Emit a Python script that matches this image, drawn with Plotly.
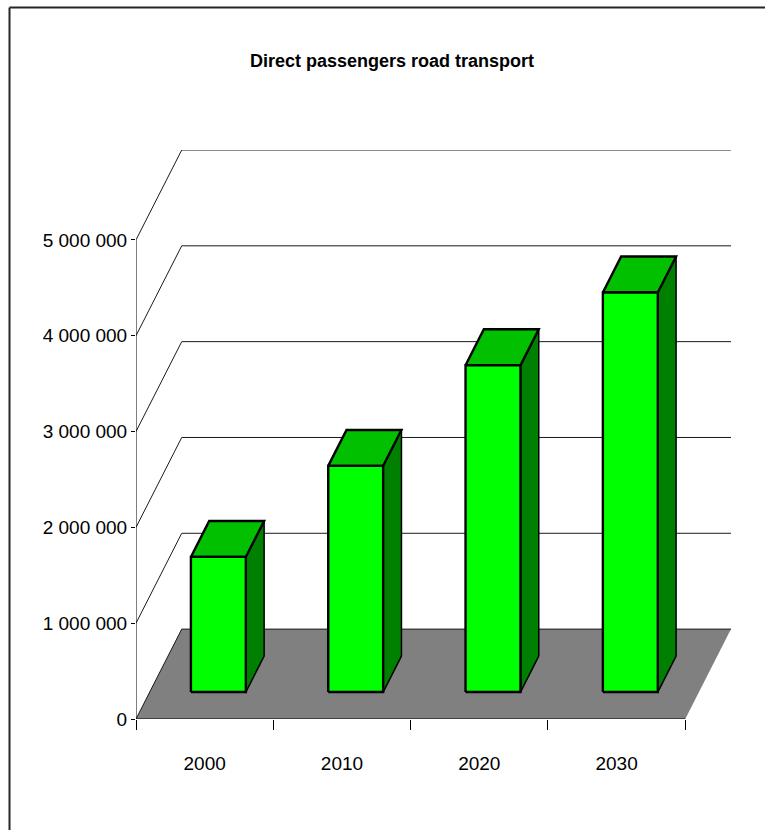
import plotly.graph_objects as go

# Chart data
years = ["2000", "2010", "2020", "2030"]
passengers = [1410000, 2360000, 3410000, 4170000]
y_ticks = [0, 1000000, 2000000, 3000000, 4000000, 5000000]
y_tick_labels = ["0", "1 000 000", "2 000 000", "3 000 000", "4 000 000", "5 000 000"]

# Oblique projection of the "3D" box: depth 1 shifts right by DX category units
# and up by DY value units.
DX = 0.333
DY = 938000
BAR_HALF = 0.2          # half bar width, in category units
D_FRONT, D_BACK = 0.3, 0.7   # bar depth span inside the box

FONT = "Liberation Sans, Arial, sans-serif"
n = len(years)
ymax = max(y_ticks)


def proj(x, y, d):
    return x + d * DX, y + d * DY


def poly(points, fill, line_color=None, line_width=0):
    xs = [p[0] for p in points] + [points[0][0]]
    ys = [p[1] for p in points] + [points[0][1]]
    return go.Scatter(
        x=xs, y=ys, mode="lines", fill="toself", fillcolor=fill,
        line=dict(color=line_color or fill, width=line_width),
        hoverinfo="skip", showlegend=False,
    )


def path(points, color, width):
    return go.Scatter(
        x=[p[0] for p in points], y=[p[1] for p in points], mode="lines",
        line=dict(color=color, width=width), hoverinfo="skip", showlegend=False,
    )


fig = go.Figure()

# floor
fig.add_trace(poly([proj(0, 0, 0), proj(n, 0, 0), proj(n, 0, 1), proj(0, 0, 1)], "#808080"))

# wall gridlines: left side wall slant + back wall horizontal
for v in y_ticks:
    fig.add_trace(path([proj(0, v, 0), proj(0, v, 1), proj(n, v, 1)], "#1a1a1a", 1))

# front value axis and front floor edge
fig.add_trace(path([proj(0, 0, 0), proj(0, ymax, 0)], "#000000", 1))
fig.add_trace(path([proj(0, 0, 0), proj(n, 0, 0)], "#000000", 1.2))

# bars
for i, v in enumerate(passengers):
    x0 = i + 0.5 - BAR_HALF
    x1 = i + 0.5 + BAR_HALF
    front = [proj(x0, 0, D_FRONT), proj(x1, 0, D_FRONT), proj(x1, v, D_FRONT), proj(x0, v, D_FRONT)]
    side = [proj(x1, 0, D_FRONT), proj(x1, 0, D_BACK), proj(x1, v, D_BACK), proj(x1, v, D_FRONT)]
    top = [proj(x0, v, D_FRONT), proj(x1, v, D_FRONT), proj(x1, v, D_BACK), proj(x0, v, D_BACK)]
    fig.add_trace(poly(side, "#008000", "#000000", 1.5))
    fig.add_trace(poly(top, "#00C000", "#000000", 2.4))
    fig.add_trace(poly(front, "#00FF00", "#000000", 2.4))

W, H = 765, 830
ML, MR, MT, MB = 136, 34, 150, 111
pw, ph = W - ML - MR, H - MT - MB


def px_x(p):
    return (p - ML) / pw


def px_y(p):
    return (H - MB - p) / ph


# outer chart frame (left and top edges)
frame = dict(color="#262626", width=2)
shapes = [
    dict(type="line", xref="paper", yref="paper", x0=px_x(9.5), x1=px_x(9.5),
         y0=px_y(7.5), y1=px_y(H + 10), line=frame),
    dict(type="line", xref="paper", yref="paper", x0=px_x(9.5), x1=px_x(W + 10),
         y0=px_y(7.5), y1=px_y(7.5), line=frame),
]

fig.update_layout(
    width=W, height=H,
    margin=dict(l=ML, r=MR, t=MT, b=MB, pad=0),
    paper_bgcolor="white", plot_bgcolor="white",
    font=dict(family=FONT, color="#000000", size=18),
    title=dict(
        text="<b>Direct passengers road transport</b>",
        font=dict(family=FONT, size=18, color="#000000"),
        xref="container", yref="container",
        x=392 / W, xanchor="center", y=1 - 61 / H, yanchor="middle",
    ),
    showlegend=False,
    shapes=shapes,
    xaxis=dict(
        range=[0, n + DX], showgrid=False, zeroline=False, showline=False,
        tickmode="array", tickvals=[i + 0.5 for i in range(n)], ticktext=years,
        ticks="", tickfont=dict(family=FONT, size=19),
        ticklabelstandoff=31,
        minor=dict(ticks="outside", tick0=0, dtick=1, ticklen=10,
                   tickcolor="#000000", tickwidth=1, showgrid=False),
        fixedrange=True,
    ),
    yaxis=dict(
        range=[0, ymax + DY], showgrid=False, zeroline=False, showline=False,
        tickmode="array", tickvals=y_ticks, ticktext=y_tick_labels,
        ticks="outside", ticklen=4, tickcolor="#000000", tickwidth=1,
        tickfont=dict(family=FONT, size=19),
        fixedrange=True,
    ),
)

fig.write_html("out.html")
